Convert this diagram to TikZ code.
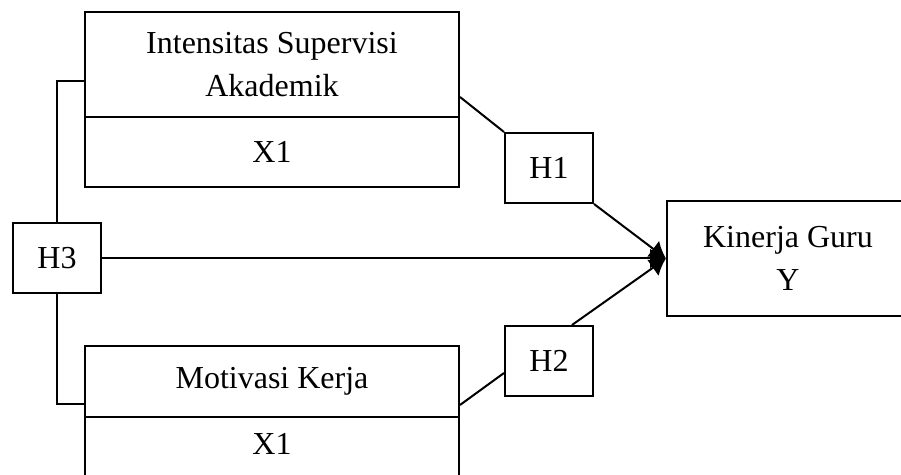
\documentclass[tikz,border=0pt]{standalone}
\usepackage{fontspec}
\setmainfont{Liberation Serif}
\usetikzlibrary{arrows.meta}

\begin{document}
\begin{tikzpicture}[x=0.5pt,y=-0.5pt,>={Latex[length=8pt,width=10pt]},
  font=\fontsize{16}{21.5}\selectfont,
  box/.style={draw,line width=1pt,align=center,inner sep=0pt},
  wide/.style={box,minimum width=187pt},
  hyp/.style={box,minimum width=44pt,minimum height=35pt},
  link/.style={line width=1pt}]
\useasboundingbox (0,0) rectangle (901,475);
\clip (0,0) rectangle (901,475);
% variable boxes
\node[wide,minimum height=52.5pt] (supa) at (272,64.5) {Intensitas Supervisi\\ Akademik};
\node[wide,minimum height=35pt] (supb) at (272,152) {X1};
\node[wide,minimum height=35.5pt] (mota) at (272,381.5) {Motivasi Kerja};
\node[wide,minimum height=35pt,text depth=8pt] (motb) at (272,452) {X1};
\node[box,minimum width=121pt,minimum height=57.5pt] (kin) at (788,258.5)
  {Kinerja Guru\\ Y};
% hypotheses
\node[hyp] (h1) at (549,168) {H1};
\node[hyp] (h2) at (549,361) {H2};
\node[hyp] (h3) at (57,258.5) {H3};
% connectors
\draw[link] ([yshift=-8.25pt]supa.west) -| (h3.north);
\draw[link] (h3.south) |- ([yshift=-11.25pt]mota.west);
\draw[link] ([yshift=-16.25pt]supa.east) -- (h1.north west);
\draw[link,->] (h1.south east) -- (kin.west);
\draw[link,->] (h3.east) -- (kin.west);
\draw[link] ([yshift=-11.75pt]mota.east) -- ([yshift=-6pt]h2.west);
\draw[link,->] ([xshift=11.5pt]h2.north) -- (kin.west);
\end{tikzpicture}
\end{document}
